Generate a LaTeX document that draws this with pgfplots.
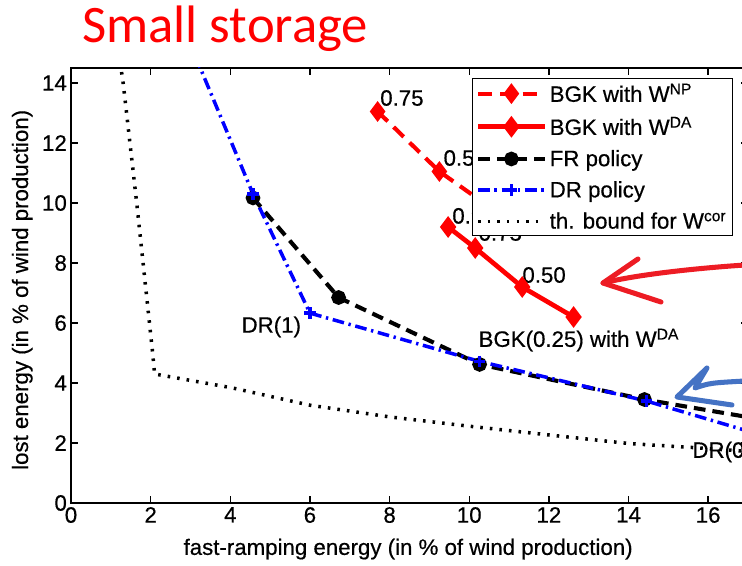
\documentclass[border=0pt]{standalone}
\usepackage{pgfplots}
\pgfplotsset{compat=1.18}
\usepackage{fontspec}
\setmainfont{Liberation Sans}[FakeBold=0.5]
\newfontfamily\titlefont{Carlito}
\definecolor{annred}{HTML}{ED1C24}
\definecolor{annblue}{HTML}{4472C4}
\newcommand{\lblfont}{\fontsize{19}{22}\selectfont}
\pgfplotsset{
  axpos/.style={at={(2.13cm,-15.09cm)}, anchor=south west,
    scale only axis, width=20.31cm, height=13.05cm,
    xmin=0, xmax=17, ymin=0, ymax=14.5},
  npstyle/.style={color=red, line width=3.5pt, dash pattern=on 12pt off 7pt, mark=diamond*, mark size=6pt, mark options={solid}},
  dastyle/.style={color=red, line width=4pt, solid, mark=diamond*, mark size=6pt},
  frstyle/.style={color=black, line width=3.5pt, dash pattern=on 10pt off 6pt, mark=*, mark size=4.5pt, mark options={solid}},
  drstyle/.style={color=blue, line width=3pt, dash pattern=on 10pt off 4pt on 2pt off 4pt, mark=+, mark size=5pt, mark options={solid, line width=3pt}},
  bdstyle/.style={color=black, line width=3pt, dash pattern=on 2.2pt off 6pt, mark=none},
}
\begin{document}
\begin{tikzpicture}
\begin{scope}
\clip (0,0) rectangle (22.26cm,-16.98cm);
\begin{axis}[
  axpos,
  xtick={0,2,...,16}, ytick={0,2,...,14},
  tick align=inside, major tick length=0.22cm,
  axis line style={line width=1.2pt},
  every tick/.style={black, line width=1.2pt},
  /pgf/number format/assume math mode=true,
  tick label style={font=\lblfont},
  label style={font=\lblfont},
  xlabel={fast-ramping energy (in \% of wind production)},
  ylabel={lost energy (in \% of wind production)},
  xlabel style={at={(axis description cs:0.498,-0.106)}, anchor=center},
  ylabel style={at={(axis description cs:-0.072,0.49)}, anchor=center, rotate=0},
]
\addplot[npstyle] coordinates {(7.7,13.05) (9.25,11.05) (10.9,9.5)};
\addplot[dastyle] coordinates {(9.47,9.2) (10.15,8.5) (11.33,7.2) (12.62,6.2)};
\addplot[frstyle] coordinates {(4.57,10.17) (6.72,6.85) (10.26,4.62) (14.4,3.45) (17.5,2.75)};
\addplot[drstyle] coordinates {(2.9,15.6) (4.57,10.3) (6.0,6.33) (10.26,4.72) (14.45,3.4) (17.5,2.2)};
\addplot[bdstyle] coordinates {(1.2,15.0) (1.31,14.0) (1.65,10.0) (1.81,8.0) (1.97,6.0) (2.05,5.0) (2.1,4.3) (4.04,3.84) (6.0,3.26) (8.0,2.87) (10.0,2.56) (12.06,2.26) (14.03,1.98) (15.6,1.85) (17.0,1.72)};
\node[anchor=west, font=\lblfont, inner sep=0pt] at (axis cs:7.76,13.5) {0.75};
\node[anchor=west, font=\lblfont, inner sep=0pt] at (axis cs:9.35,11.5) {0.50};
\node[anchor=west, font=\lblfont, inner sep=0pt] at (axis cs:9.57,9.57) {0.90};
\node[anchor=west, font=\lblfont, inner sep=0pt] at (axis cs:10.23,9.0) {0.75};
\node[anchor=west, font=\lblfont, inner sep=0pt] at (axis cs:11.33,7.6) {0.50};
\node[anchor=center, font=\lblfont, inner sep=0pt] at (axis cs:5.03,5.87) {DR(1)};
\node[anchor=west, font=\lblfont, inner sep=0pt] at (axis cs:10.23,5.43) {BGK(0.25) with W\textsuperscript{DA}};
\node[anchor=west, font=\lblfont, inner sep=0pt] at (axis cs:15.6,1.7) {DR(0)};
\end{axis}
\begin{axis}[
  axpos, hide axis,
  legend style={at={(0.978,0.977)}, anchor=north east, font=\lblfont,
    draw=black, line width=1.2pt, fill=white, row sep=0.24cm,
    nodes={inner sep=0.08cm}},
  legend cell align=left,
  legend image code/.code={\draw[mark repeat=2,mark phase=2] plot coordinates {(0cm,0cm) (1cm,0cm) (2cm,0cm)};},
]
\addlegendimage{npstyle}
\addlegendentry{BGK with W\textsuperscript{NP}}
\addlegendimage{dastyle}
\addlegendentry{BGK with W\textsuperscript{DA}}
\addlegendimage{frstyle}
\addlegendentry{FR policy}
\addlegendimage{drstyle}
\addlegendentry{DR policy}
\addlegendimage{bdstyle}
\addlegendentry{th. bound for W\textsuperscript{cor}}
\end{axis}
\begin{scope}[x=0.03cm, y=-0.03cm, line width=4.3pt, line cap=round, line join=round]
\draw[annred] (745,265) .. controls (700,268) and (640,274) .. (603,283);
\draw[annred] (638,259) -- (603,283) -- (661,302);
\draw[annblue] (732,405) -- (677,397) -- (707,368) -- (695,388) .. controls (710,383) .. (745,381);
\end{scope}
\end{scope}
\node[anchor=base west, text=red, font=\titlefont\fontsize{45}{50}\selectfont, inner sep=0pt] at (2.46cm,-1.29cm) {Small storage};
\pgfresetboundingbox
\path[use as bounding box] (0,0) rectangle (22.26cm,-16.98cm);
\end{tikzpicture}
\end{document}
